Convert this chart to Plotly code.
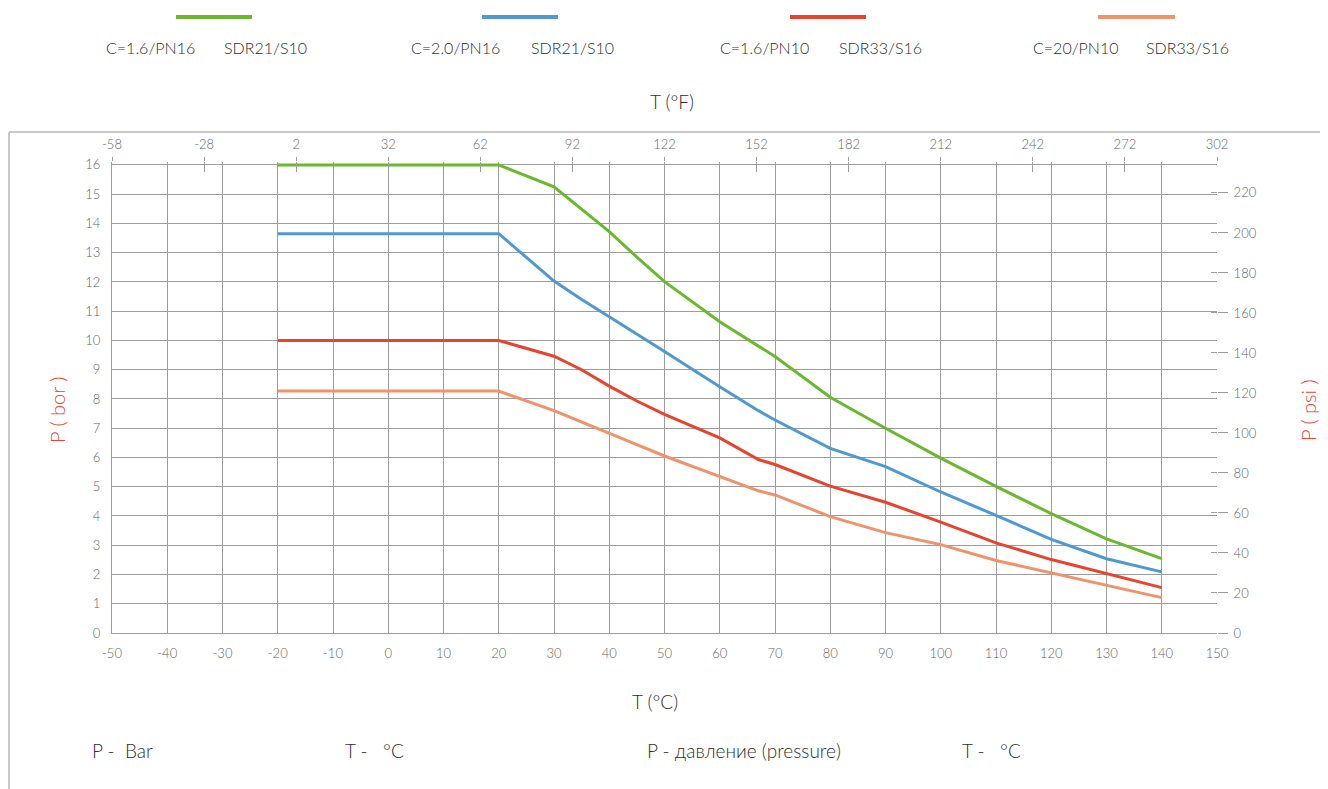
import plotly.graph_objects as go

# ---- data ----
temps_c = [-20, 20, 30, 35, 40, 45, 50, 60, 67, 70, 80, 90, 100, 110, 120, 130, 140]
green = [16.0, 16.0, 15.25, 14.5, 13.72, 12.85, 12.01, 10.64, 9.8, 9.45, 8.06, 7.0, 5.98, 5.01, 4.08, 3.22, 2.54]
blue = [13.65, 13.65, 12.03, 11.4, 10.81, 10.2, 9.62, 8.42, 7.6, 7.28, 6.31, 5.69, 4.82, 4.02, 3.20, 2.54, 2.09]
red = [10.0, 10.0, 9.46, 9.0, 8.44, 7.93, 7.47, 6.67, 5.93, 5.76, 5.02, 4.47, 3.79, 3.08, 2.51, 2.03, 1.55]
orange = [8.27, 8.27, 7.6, 7.22, 6.83, 6.44, 6.05, 5.34, 4.86, 4.72, 3.98, 3.43, 3.02, 2.48, 2.05, 1.63, 1.21]

series_names = ["C=1.6/PN16", "C=2.0/PN16", "C=1.6/PN10", "C=20/PN10"]
series_sdr = ["SDR21/S10", "SDR21/S10", "SDR33/S16", "SDR33/S16"]
series_colors = ["#6ab82e", "#4f98d2", "#e8432f", "#f0926a"]
series_values = [green, blue, red, orange]

x_c_ticks = list(range(-50, 151, 10))
x_f_ticks = list(range(-58, 303, 30))
y_bar_ticks = list(range(0, 17, 1))
y_psi_ticks = list(range(0, 221, 20))

# ---- layout geometry (reference pixels; page body has an 8px margin) ----
OFF = 8
W, H = 1328 - OFF, 789 - OFF
Y_TOP = 16.1                       # small headroom so the 16-bar line is not clipped
PX_PER_BAR = (633 - 165) / 16
L, R, B = 112, 1217, 633
T = B - Y_TOP * PX_PER_BAR         # plot-area top in reference pixels
PSI_TOP = (B - T) / 2.0            # right axis: 2 px per psi


def px(x):
    return (x - L) / (R - L)


def py(y):
    return (B - y) / (B - T)


GRID = "#9c9c9c"
TICKC = "#666666"
FONT = "Lato, 'Open Sans', sans-serif"

fig = go.Figure()
for name, sdr, col, vals in zip(series_names, series_sdr, series_colors, series_values):
    fig.add_trace(go.Scatter(x=temps_c, y=vals, mode="lines", name=name + " " + sdr,
                             line=dict(color=col, width=3), showlegend=False, hoverinfo="x+y"))

# hidden companion traces for the secondary (°F / psi) axes, derived from the data
for xa, ya in (("x2", "y2"), ("x3", "y3")):
    fig.add_trace(go.Scatter(x=[t * 9 / 5 + 32 for t in temps_c], y=[v * 14.5038 for v in green],
                             xaxis=xa, yaxis=ya, mode="lines", line=dict(color="rgba(0,0,0,0)"),
                             showlegend=False, hoverinfo="skip"))

tickfont = dict(family=FONT, size=13, color=TICKC, weight=300)

fig.update_layout(
    width=W, height=H,
    margin=dict(l=L - OFF, r=1328 - R, t=T - OFF, b=789 - B),
    paper_bgcolor="white", plot_bgcolor="white",
    font=dict(family=FONT),
    showlegend=False,
    xaxis=dict(range=[-50, 150], tickvals=x_c_ticks, ticktext=[str(v) for v in x_c_ticks],
               showgrid=True, gridcolor=GRID, gridwidth=1.2,
               zeroline=False, showline=True, linecolor=GRID, linewidth=1.2, ticks="", tickfont=tickfont,
               ticklabelstandoff=8),
    yaxis=dict(range=[0, Y_TOP], tickvals=y_bar_ticks, ticktext=[str(v) for v in y_bar_ticks],
               showgrid=True, gridcolor=GRID, gridwidth=1.2,
               zeroline=False, showline=True, linecolor=GRID, linewidth=1.2, ticks="", tickfont=tickfont,
               ticklabelstandoff=8),
    xaxis2=dict(overlaying="x", side="top", anchor="y", range=[-58, 302], tickvals=x_f_ticks,
                ticktext=[str(v) for v in x_f_ticks],
                showgrid=False, zeroline=False, showline=False, ticks="outside", ticklen=4,
                tickcolor=GRID, tickwidth=1, tickfont=tickfont, ticklabelstandoff=3),
    xaxis3=dict(overlaying="x", side="top", anchor="y", range=[-58, 302], tickvals=x_f_ticks,
                showgrid=False, zeroline=False, showline=False, ticks="inside", ticklen=10,
                tickcolor=GRID, tickwidth=1, showticklabels=False),
    yaxis2=dict(overlaying="y", side="right", anchor="x", range=[0, PSI_TOP], tickvals=y_psi_ticks,
                ticktext=[str(v) for v in y_psi_ticks],
                showgrid=False, zeroline=False, showline=False, ticks="outside", ticklen=10,
                tickcolor=GRID, tickwidth=1, tickfont=tickfont, ticklabelstandoff=3),
    yaxis3=dict(overlaying="y", side="right", anchor="x", range=[0, PSI_TOP], tickvals=y_psi_ticks,
                showgrid=False, zeroline=False, showline=False, ticks="inside", ticklen=6,
                tickcolor=GRID, tickwidth=1, showticklabels=False),
)

shapes = []
annots = []
# frame
shapes.append(dict(type="line", xref="paper", yref="paper", x0=px(9), x1=px(1328), y0=py(132), y1=py(132),
                   line=dict(color="#c8c8c8", width=2)))
shapes.append(dict(type="line", xref="paper", yref="paper", x0=px(9), x1=px(9), y0=py(132), y1=py(789),
                   line=dict(color="#c8c8c8", width=2)))


def note(text, x, y, size, color="#2e2e2e", xanchor="center", angle=0, weight=300):
    annots.append(dict(text=text, xref="paper", yref="paper", x=px(x), y=py(y),
                       xanchor=xanchor, yanchor="middle", showarrow=False, textangle=angle,
                       font=dict(family=FONT, size=size, color=color, weight=weight)))


# custom legend
leg_line_x = [(176, 252), (482, 558), (790, 866), (1098, 1175)]
leg_name_cx = [150, 455, 764, 1076]
leg_sdr_cx = [265, 572, 880, 1187]
for i in range(4):
    x0, x1 = leg_line_x[i]
    shapes.append(dict(type="line", xref="paper", yref="paper", x0=px(x0), x1=px(x1),
                       y0=py(17), y1=py(17), line=dict(color=series_colors[i], width=4)))
    note(series_names[i], leg_name_cx[i], 48, 16)
    note(series_sdr[i], leg_sdr_cx[i], 48, 16)

# axis titles
note("T (°F)", 672, 102, 19)
note("T (°C)", 655, 701, 19)
note("P ( bor )", 57, 410, 20, color="#e8432f", angle=-90)
note("P ( psi )", 1308, 410, 20, color="#e8432f", angle=-90)

# footer notes
NB = "\u00a0"
footer = [("P -" + NB * 2 + "Bar", 90), ("T -" + NB * 3 + "°C", 343),
          ("P - давление (pressure)", 645), ("T -" + NB * 3 + "°C", 960)]
for txt, xl in footer:
    note(txt, xl, 750, 19, xanchor="left")

fig.update_layout(shapes=shapes, annotations=annots)
fig.write_html("out.html")
